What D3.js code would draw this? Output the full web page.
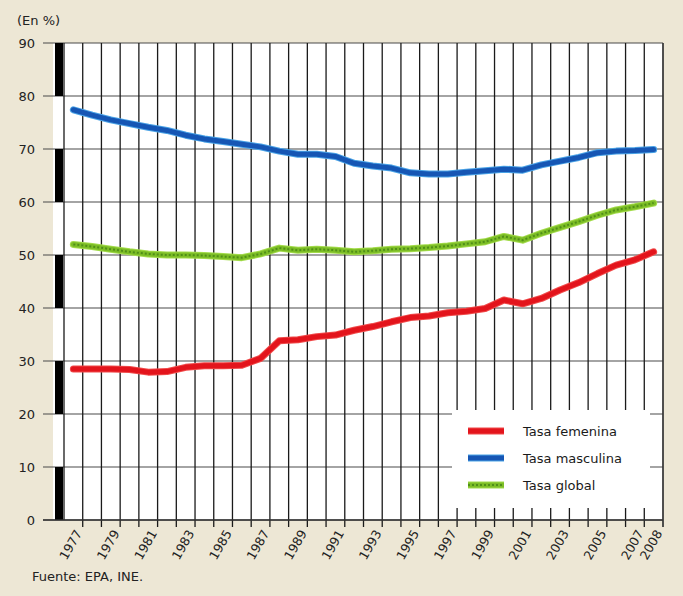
<!DOCTYPE html>
<html><head><meta charset="utf-8">
<script src="https://cdn.jsdelivr.net/npm/d3@7/dist/d3.min.js"></script>
<style>
body{margin:0;background:#ede7d5;}
svg{display:block;font-family:"DejaVu Sans",Verdana,sans-serif;}
</style>
</head><body>
<svg id="chart" width="683" height="596"></svg>
<script>
// ---- data ----
const years = [1977,1978,1979,1980,1981,1982,1983,1984,1985,1986,1987,1988,1989,1990,1991,1992,
               1993,1994,1995,1996,1997,1998,1999,2000,2001,2002,2003,2004,2005,2006,2007,2008];
const tasaFemenina = [28.5,28.5,28.5,28.4,27.9,28.0,28.8,29.1,29.1,29.2,30.5,33.8,34.0,34.6,34.9,35.8,
                      36.5,37.4,38.2,38.5,39.1,39.4,39.9,41.5,40.8,41.8,43.4,44.8,46.5,48.1,49.1,50.6];
const tasaMasculina = [77.4,76.4,75.5,74.8,74.1,73.5,72.6,71.9,71.4,70.9,70.4,69.6,69.0,69.0,68.6,67.3,
                       66.8,66.4,65.5,65.3,65.3,65.6,65.9,66.2,66.0,67.0,67.7,68.4,69.3,69.6,69.7,69.9];
const tasaGlobal = [52.0,51.6,51.1,50.6,50.2,50.0,50.0,49.9,49.7,49.5,50.2,51.3,50.9,51.1,50.9,50.6,
                    50.8,51.1,51.2,51.4,51.7,52.1,52.5,53.5,52.8,54.1,55.2,56.3,57.5,58.5,59.1,59.8];
const yTicks = [0,10,20,30,40,50,60,70,80,90];
const xTickLabels = ["1977","1979","1981","1983","1985","1987","1989","1991","1993","1995",
                     "1997","1999","2001","2003","2005","2007","2008"];
const seriesNames = ["Tasa femenina","Tasa masculina","Tasa global"];
const unitLabel = "(En %)";
const sourceLabel = "Fuente: EPA, INE.";

// ---- drawing ----
const svg = d3.select("#chart");
const x = d3.scaleLinear().domain([1976.5, 2008.5]).range([64, 663]);
const y = d3.scaleLinear().domain([0, 90]).range([520, 43]);

// plot background
svg.append("rect").attr("x", 53).attr("y", y(90)).attr("width", x(2008.5) - 53)
  .attr("height", y(0) - y(90)).attr("fill", "#ffffff");

// horizontal gridlines + y ticks
svg.append("g").selectAll("line").data(yTicks).join("line")
  .attr("x1", 43).attr("x2", x(2008.5))
  .attr("y1", d => y(d)).attr("y2", d => y(d))
  .attr("stroke", "#4a4a4a").attr("stroke-width", 1.1);

svg.append("g").selectAll("text").data(yTicks).join("text")
  .attr("x", 35).attr("y", d => y(d)).attr("dy", "0.35em")
  .attr("text-anchor", "end").attr("font-size", 13).attr("fill", "#222")
  .text(d => d);

// vertical gridlines (between years), extending slightly below the axis
const gridX = d3.range(1976.5, 2009, 1);
svg.append("g").selectAll("line").data(gridX).join("line")
  .attr("x1", d => x(d)).attr("x2", d => x(d))
  .attr("y1", y(90)).attr("y2", d => d === 1976.5 ? y(0) : y(0) + 7)
  .attr("stroke", "#1a1a1a").attr("stroke-width", 1.3);

// left black bar
svg.append("g").selectAll("rect").data([0,20,40,60,80]).join("rect")
  .attr("x", 55).attr("width", 8)
  .attr("y", d => y(d + 10)).attr("height", d => y(d) - y(d + 10))
  .attr("fill", "#000");

// right border
svg.append("line").attr("x1", x(2008.5)).attr("x2", x(2008.5))
  .attr("y1", y(90)).attr("y2", y(0) + 7).attr("stroke", "#444").attr("stroke-width", 1.3);

// x axis line
svg.append("line").attr("x1", 43).attr("x2", x(2008.5)).attr("y1", y(0)).attr("y2", y(0))
  .attr("stroke", "#333").attr("stroke-width", 1.3);

// x tick labels
const xt = svg.append("g");
xt.selectAll("text").data(xTickLabels).join("text")
  .attr("transform", d => `translate(${x(+d + 0.5) - 4},${y(0) + 11}) rotate(-60)`)
  .attr("text-anchor", "end").attr("dy", "0.35em")
  .attr("font-size", 12.5).attr("fill", "#222")
  .text(d => d);

// legend box (covers the gridlines)
svg.append("rect").attr("x", 452).attr("y", 410).attr("width", 198).attr("height", 98)
  .attr("fill", "#ffffff");

// series
const series = [
  {name: seriesNames[0], values: tasaFemenina, color: "#e3141c", under: "#f04a4a"},
  {name: seriesNames[1], values: tasaMasculina, color: "#1656b4", under: "#4aa3e6"},
  {name: seriesNames[2], values: tasaGlobal, color: "#7cbd26", under: "#a4dc4c"}
];
const line = d3.line().x((d, i) => x(years[i])).y(d => y(d));
const lg = svg.append("g");
series.forEach(s => {
  lg.append("path").attr("d", line(s.values)).attr("fill", "none")
    .attr("stroke", s.under).attr("stroke-width", 7).attr("stroke-linejoin", "round").attr("stroke-linecap", "round");
  lg.append("path").attr("d", line(s.values)).attr("fill", "none")
    .attr("stroke", s.color).attr("stroke-width", 5).attr("stroke-linejoin", "round").attr("stroke-linecap", "round");
});
// texture on green line
lg.append("path").attr("d", line(tasaGlobal)).attr("fill", "none")
  .attr("stroke", "#4f8f18").attr("stroke-width", 2).attr("stroke-dasharray", "2,2");

// legend entries
const leg = svg.append("g");
series.forEach((s, i) => {
  const ly = 431 + i * 27;
  leg.append("line").attr("x1", 468).attr("x2", 504).attr("y1", ly).attr("y2", ly)
    .attr("stroke", s.under).attr("stroke-width", 7);
  leg.append("line").attr("x1", 468).attr("x2", 504).attr("y1", ly).attr("y2", ly)
    .attr("stroke", s.color).attr("stroke-width", 5);
  leg.append("text").attr("x", 523).attr("y", ly).attr("dy", "0.38em")
    .attr("font-size", 13).attr("fill", "#1a1a1a").text(s.name);
});
leg.append("line").attr("x1", 468).attr("x2", 504).attr("y1", 431 + 54).attr("y2", 431 + 54)
  .attr("stroke", "#4f8f18").attr("stroke-width", 2).attr("stroke-dasharray", "2,2");

// unit + source
svg.append("text").attr("x", 17).attr("y", 25).attr("font-size", 13).attr("fill", "#222").text(unitLabel);
svg.append("text").attr("x", 32).attr("y", 581).attr("font-size", 13).attr("fill", "#222").text(sourceLabel);
</script>
</body></html>
